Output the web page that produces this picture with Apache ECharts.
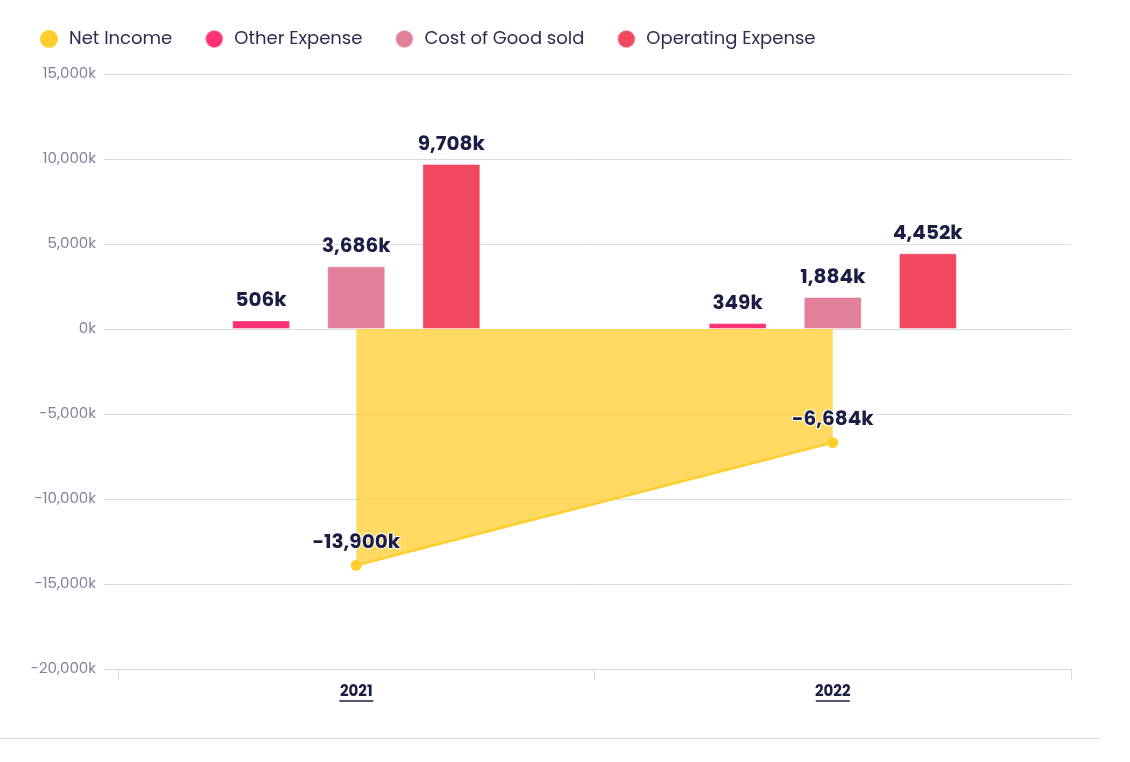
<!DOCTYPE html>
<html>
<head>
<meta charset="utf-8">
<script src="https://cdn.jsdelivr.net/npm/echarts@6/dist/echarts.min.js"></script>
<style>
  html, body { margin: 0; padding: 0; background: #fff; }
  #chart { width: 1130px; height: 762px; position: absolute; left: 0; top: 0; }
  #rule { position: absolute; left: 0; top: 738px; width: 1100px; height: 1px; background: #d6dce4; }
</style>
</head>
<body>
<div id="chart"></div>
<div id="rule"></div>
<script>
// ---- data (values in thousands) ----
const categories = ['2021', '2022'];
const netIncome = [-13900, -6684];
const otherExpense = [506, 349];
const costOfGoodSold = [3686, 1884];
const operatingExpense = [9708, 4452];
const yMin = -20000, yMax = 15000, yInterval = 5000;

const FONT = 'Poppins, Inter, "Noto Sans", sans-serif';
const LABEL_COLOR = '#1b1d45';
const GRID_COLOR = '#d6dce4';
const fmt = v => Number(v).toLocaleString('en-US') + 'k';

const dataLabel = {
  show: true,
  position: 'top',
  distance: 9,
  formatter: p => fmt(p.value),
  fontFamily: FONT,
  fontWeight: 'bold',
  fontSize: 20,
  color: LABEL_COLOR,
  textBorderColor: '#fff',
  textBorderWidth: 2
};

const barCommon = {
  type: 'bar',
  xAxisIndex: 1,
  yAxisIndex: 1,
  barWidth: 58,
  barGap: '64%',
  label: dataLabel,
  z: 3
};

const chart = echarts.init(document.getElementById('chart'), null, { renderer: 'canvas' });
chart.setOption({
  animation: false,
  textStyle: { fontFamily: FONT },
  legend: {
    left: 35,
    top: 24,
    icon: 'circle',
    itemWidth: 18,
    itemHeight: 18,
    itemGap: 32,
    textStyle: { fontFamily: FONT, fontSize: 18, color: '#2a2d4f', padding: [0, 0, 0, 6] },
    data: ['Net Income', 'Other Expense', 'Cost of Good sold', 'Operating Expense']
  },
  grid: [
    { left: 104, right: 59, top: 74, bottom: 93, containLabel: false },
    { left: 118, right: 59, top: 74, bottom: 93, containLabel: false }
  ],
  xAxis: [
    {
      type: 'category', gridIndex: 0, data: categories,
      axisLine: { show: true, onZero: false, lineStyle: { color: GRID_COLOR, width: 1 } },
      axisTick: { show: false }, axisLabel: { show: false }, splitLine: { show: false }
    },
    {
      type: 'category', gridIndex: 1, data: categories,
      axisLine: { show: true, onZero: false, lineStyle: { color: GRID_COLOR, width: 1 } },
      axisTick: { show: true, length: 11, alignWithLabel: false, lineStyle: { color: GRID_COLOR } },
      axisLabel: {
        margin: 15,
        formatter: v => '{t|' + v + '}\n{u|}',
        rich: {
          t: { fontFamily: FONT, fontWeight: 'bold', fontSize: 15, color: LABEL_COLOR, lineHeight: 16 },
          u: { width: 34, height: 1.4, backgroundColor: LABEL_COLOR, lineHeight: 2 }
        }
      },
      splitLine: { show: false }
    }
  ],
  yAxis: [
    {
      type: 'value', gridIndex: 0, min: yMin, max: yMax, interval: yInterval,
      axisLine: { show: false }, axisTick: { show: false },
      axisLabel: { margin: 8, formatter: v => fmt(v), fontFamily: FONT, fontSize: 15, color: '#7f839c' },
      splitLine: { show: true, lineStyle: { color: GRID_COLOR, width: 1 } }
    },
    {
      type: 'value', gridIndex: 1, min: yMin, max: yMax, interval: yInterval,
      axisLine: { show: false }, axisTick: { show: false }, axisLabel: { show: false },
      splitLine: { show: false }
    }
  ],
  series: [
    {
      name: 'Net Income',
      type: 'line',
      xAxisIndex: 1, yAxisIndex: 1,
      data: netIncome,
      symbol: 'circle',
      symbolSize: 11,
      itemStyle: { color: '#FFCE2E' },
      lineStyle: { color: '#FFCE2E', width: 2.5 },
      areaStyle: { color: '#FFCE2E', opacity: 0.75, origin: 0 },
      label: Object.assign({}, dataLabel, { distance: 7 }),
      z: 2
    },
    Object.assign({}, barCommon, {
      name: 'Other Expense', data: otherExpense,
      itemStyle: { color: '#FF3374', borderColor: 'rgba(255,255,255,0.45)', borderWidth: 1 }
    }),
    Object.assign({}, barCommon, {
      name: 'Cost of Good sold', data: costOfGoodSold,
      itemStyle: { color: '#E27F9A', borderColor: 'rgba(255,255,255,0.45)', borderWidth: 1 }
    }),
    Object.assign({}, barCommon, {
      name: 'Operating Expense', data: operatingExpense,
      itemStyle: { color: '#EF4860', borderColor: 'rgba(255,255,255,0.45)', borderWidth: 1 }
    })
  ]
});
</script>
</body>
</html>
